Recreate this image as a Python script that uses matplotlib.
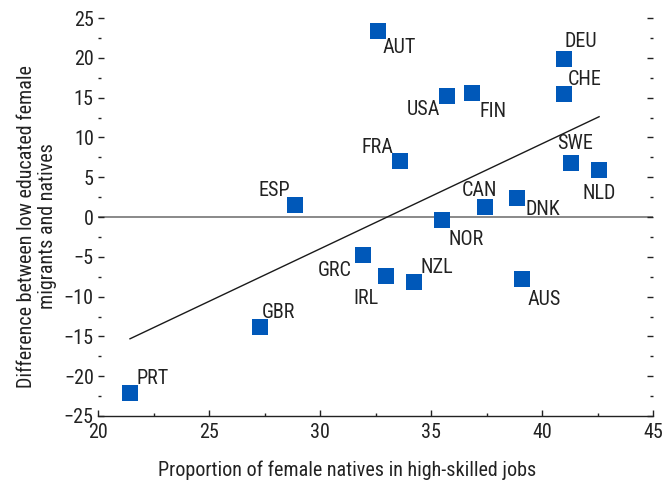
import matplotlib
matplotlib.use("Agg")
import matplotlib.pyplot as plt
from matplotlib.ticker import MultipleLocator

plt.rcParams['font.family'] = ['Roboto Condensed', 'Archivo Narrow', 'PT Sans Narrow', 'Liberation Sans', 'DejaVu Sans']

countries = ["PRT", "GBR", "ESP", "GRC", "IRL", "NZL", "AUS", "NOR", "CAN",
             "DNK", "SWE", "NLD", "CHE", "DEU", "FIN", "USA", "FRA", "AUT"]
x_vals = [21.44, 27.3, 28.87, 31.94, 32.97, 34.23, 39.1, 35.5, 37.43,
          38.87, 41.3, 42.57, 40.99, 40.99, 36.85, 35.72, 33.6, 32.61]
y_vals = [-22.1, -13.8, 1.5, -4.8, -7.4, -8.2, -7.8, -0.4, 1.26,
          2.45, 6.8, 5.9, 15.45, 19.85, 15.6, 15.2, 7.0, 23.4]
trend_x = [21.44, 42.57]
trend_y = [-15.3, 12.6]

# label offsets in pixels (dx, dy to baseline) and alignment
label_style = {
    "PRT": (7, 9, "left"), "GBR": (2, 9, "left"), "ESP": (-5, 9, "right"),
    "GRC": (-11, -21, "right"), "IRL": (-7, -28, "right"), "NZL": (7, 9, "left"),
    "AUS": (5, -26, "left"), "NOR": (6, -25, "left"), "CAN": (-5, 11, "center"),
    "DNK": (9, -17.5, "left"), "SWE": (4.5, 14, "center"), "NLD": (0, -29, "center"),
    "CHE": (4, 9, "left"), "DEU": (0, 12, "left"), "FIN": (7, -24.5, "left"),
    "USA": (-7, -19, "right"), "FRA": (-7, 8, "right"), "AUT": (5, -22, "left"),
}

FS = 14.5
fig = plt.figure(figsize=(6.65, 4.87), dpi=100)
ax = fig.add_axes([0.1474, 0.1458, 0.982 - 0.1474, 0.963 - 0.1458])

ax.axhline(0, color="#808080", lw=1.3, zorder=1)
ax.plot(trend_x, trend_y, color="#1a1a1a", lw=1.0, zorder=2)
ax.scatter(x_vals, y_vals, marker="s", s=11.5 ** 2, color="#0058B9", lw=0, zorder=3)

for c, x, y in zip(countries, x_vals, y_vals):
    dx, dy, ha = label_style[c]
    ax.annotate(c, (x, y), xytext=(dx, dy), textcoords="offset pixels",
                ha=ha, va="baseline", fontsize=FS, color="#222222")

ax.set_xlim(20, 45)
ax.set_ylim(-25, 25)
ax.xaxis.set_major_locator(MultipleLocator(5))
ax.xaxis.set_minor_locator(MultipleLocator(2.5))
ax.yaxis.set_major_locator(MultipleLocator(5))
ax.yaxis.set_minor_locator(MultipleLocator(2.5))

for s in ["left", "right", "top"]:
    ax.spines[s].set_visible(False)
ax.spines["bottom"].set_linewidth(1.0)
ax.spines["bottom"].set_color("#222222")

ax.tick_params(axis="both", which="major", direction="in", length=4.5, width=1,
               color="#222222", labelsize=FS, labelcolor="#222222")
ax.tick_params(axis="both", which="minor", direction="in", length=2, width=1, color="#222222")
ax.tick_params(axis="y", which="both", left=True, right=True, pad=3)
ax.tick_params(axis="x", which="both", pad=5)

ax.set_yticklabels([("\u2212" + str(int(-t))) if t < 0 else str(int(t)) for t in ax.get_yticks()])

ax.set_xlabel("Proportion of female natives in high-skilled jobs", fontsize=FS,
              color="#222222")
ax.xaxis.set_label_coords(0.4495, -0.112)
ax.set_ylabel("Difference between low educated female\nmigrants and natives", fontsize=FS,
              color="#222222", linespacing=1.15)
ax.yaxis.set_label_coords(-0.074, 0.476)

fig.savefig("out.png", dpi=100)
